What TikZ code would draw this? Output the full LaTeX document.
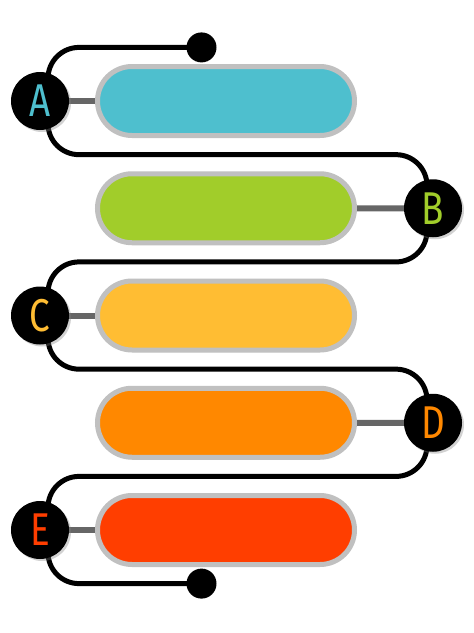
\documentclass[tikz,border=0pt]{standalone}
\usepackage{fontspec}
\newfontfamily\letterfont[FakeStretch=0.8]{Fira Sans}
\usepackage{xcolor}
\definecolor{pillcyan}{RGB}{78,191,206}
\definecolor{pillgreen}{RGB}{161,205,42}
\definecolor{pillyellow}{RGB}{255,189,51}
\definecolor{pillorange}{RGB}{255,136,0}
\definecolor{pillred}{RGB}{255,62,0}
\definecolor{pillrim}{RGB}{192,192,192}
\definecolor{stubgrey}{RGB}{102,102,102}
\usepackage{tikz}
\usetikzlibrary{calc,positioning,shapes.misc,shadows,backgrounds}

\begin{document}
\begin{tikzpicture}[x=1pt,y=-1pt,
    route/.style={line width=5pt,rounded corners=31pt},
    badge/.style={circle,fill=black,minimum size=58pt,inner sep=0pt,
      font=\letterfont\fontsize{46}{46}\selectfont,
      drop shadow={shadow xshift=2pt,shadow yshift=-2pt,opacity=0.35}},
    pill/.style={rounded rectangle,draw=pillrim,line width=5pt,
      minimum width=257pt,minimum height=69pt,inner sep=0pt,
      drop shadow={shadow xshift=1pt,shadow yshift=-2pt,opacity=0.2}},
    stub/.style={line width=6pt,draw=stubgrey},
    knob/.style={circle,fill=black,minimum size=30pt,inner sep=0pt}]
  \useasboundingbox (0,0) rectangle (474,633);
  \def\lx{40} \def\rx{433} \def\mx{226} \def\h{53.6}
  % badges
  \node[badge,text=pillcyan]   (A) at (\lx,101)    {A};
  \node[badge,text=pillgreen]  (B) at (\rx,208.25) {B};
  \node[badge,text=pillyellow] (C) at (\lx,315.5)  {C};
  \node[badge,text=pillorange] (D) at (\rx,422.75) {D};
  \node[badge,text=pillred]    (E) at (\lx,530)    {E};
  % bars
  \node[pill,fill=pillcyan]   (barA) at (\mx,101)    {};
  \node[pill,fill=pillgreen]  (barB) at (\mx,208.25) {};
  \node[pill,fill=pillyellow] (barC) at (\mx,315.5)  {};
  \node[pill,fill=pillorange] (barD) at (\mx,422.75) {};
  \node[pill,fill=pillred]    (barE) at (\mx,530)    {};
  % end knobs
  \node[knob] (topknob) at (201.5,47.4)  {};
  \node[knob] (endknob) at (201.5,583.6) {};
  \begin{scope}[on background layer]
    \fill[white] (0,0) rectangle (474,633);
    \draw[route] (topknob.center) -| ($(A)+(8,0)$);
    \draw[route] ($(A)+(8,0)$) |- ($(B)+(-6,-\h)$) -- ($(B)+(-6,0)$);
    \draw[route] ($(B)+(-6,0)$) |- ($(C)+(8,-\h)$) -- ($(C)+(8,0)$);
    \draw[route] ($(C)+(8,0)$) |- ($(D)+(-6,-\h)$) -- ($(D)+(-6,0)$);
    \draw[route] ($(D)+(-6,0)$) |- ($(E)+(8,-\h)$) -- ($(E)+(8,0)$);
    \draw[route] ($(E)+(8,0)$) |- (endknob.center);
    \draw[stub] (A) -- (barA);
    \draw[stub] (barB) -- (B);
    \draw[stub] (C) -- (barC);
    \draw[stub] (barD) -- (D);
    \draw[stub] (E) -- (barE);
  \end{scope}
\end{tikzpicture}
\end{document}
